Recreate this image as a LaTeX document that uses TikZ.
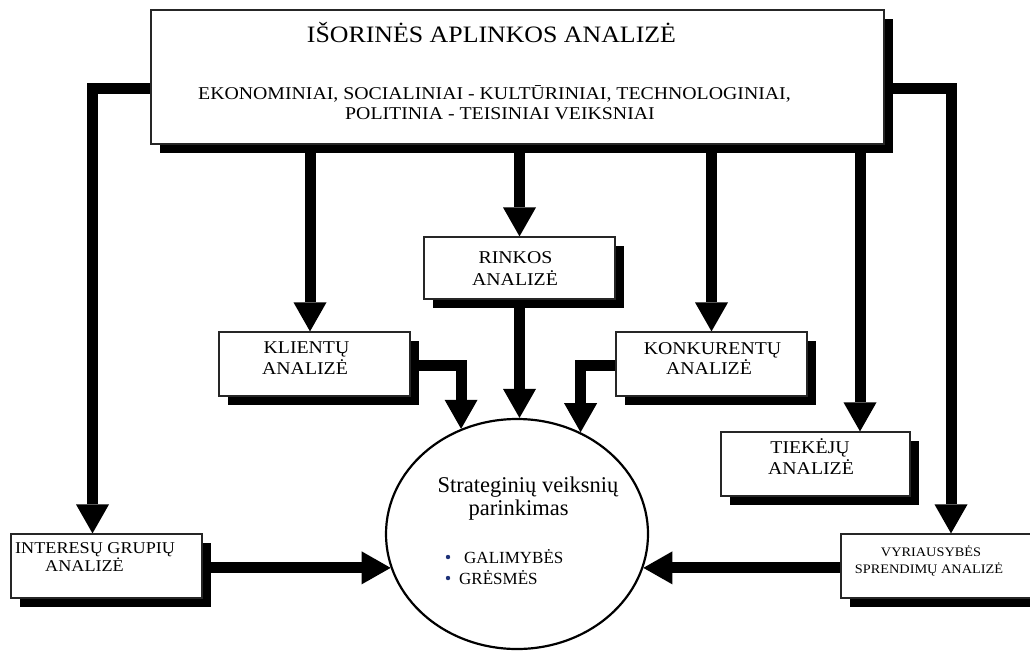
\documentclass[tikz,border=0pt]{standalone}
\usepackage{fontspec}
\setmainfont{Liberation Serif}
\newfontfamily\widefont[FakeStretch=1.1]{Liberation Serif}
\usetikzlibrary{arrows.meta,shadows,shapes.geometric,backgrounds}
\definecolor{bulletblue}{RGB}{30,50,120}

\begin{document}
\begin{tikzpicture}[x=1pt,y=-1pt,
  box/.style={draw=black!85, line width=1.2pt, fill=white, inner sep=0pt,
    general shadow={fill=black, shadow xshift=9pt, shadow yshift=-9pt}},
  conn/.style={line width=11pt, -{Triangle[width=33pt,length=29pt,line width=0pt]}},
  lbl/.style={font=\widefont\fontsize{18}{21}\selectfont, inner sep=0pt, anchor=base},
  lblw/.style={lbl, anchor=base west},
  ring/.style={font=\fontsize{22.5}{26}\selectfont, inner sep=0pt, anchor=base},
  item/.style={font=\fontsize{17}{20}\selectfont, inner sep=0pt, anchor=base west}]

\useasboundingbox (0,0) rectangle (1030,651);

% external environment box
\node[box, minimum width=733pt, minimum height=134pt] (main) at (517.5,77) {};
\node[lbl, font=\widefont\fontsize{23.5}{26}\selectfont] (t1) at (491.5,42.5) {IŠORINĖS APLINKOS ANALIZĖ};
\node[lbl] (t2) at (494.5,99) {EKONOMINIAI, SOCIALINIAI - KULTŪRINIAI, TECHNOLOGINIAI,};
\node[lbl] (t3) at (500,119) {POLITINIA - TEISINIAI VEIKSNIAI};

% market
\node[box, minimum width=191pt, minimum height=62pt] (rk) at (519.5,268) {};
\node[lbl] (rk1) at (515.5,263) {RINKOS};
\node[lbl] (rk2) at (515,285) {ANALIZĖ};

% clients
\node[box, minimum width=191pt, minimum height=64pt] (kl) at (314.5,364) {};
\node[lbl] (kl1) at (306.5,353) {KLIENTŲ};
\node[lbl] (kl2) at (305,374) {ANALIZĖ};

% competitors
\node[box, minimum width=191pt, minimum height=64pt] (kk) at (711.5,364) {};
\node[lbl] (kk1) at (712.5,354) {KONKURENTŲ};
\node[lbl] (kk2) at (709,374.5) {ANALIZĖ};

% suppliers
\node[box, minimum width=189pt, minimum height=64pt] (tk) at (815.5,464) {};
\node[lbl] (tk1) at (810,453) {TIEKĖJŲ};
\node[lbl] (tk2) at (811,474) {ANALIZĖ};

% interest groups
\node[box, minimum width=191pt, minimum height=64pt] (ig) at (106.5,566) {};
\node[lblw, font=\widefont\fontsize{16.5}{20}\selectfont] (ig1) at (15,553) {INTERESŲ GRUPIŲ};
\node[lblw, font=\widefont\fontsize{16.5}{20}\selectfont] (ig2) at (45,571) {ANALIZĖ};

% government decisions
\node[box, minimum width=194pt, minimum height=64pt] (vy) at (938,566) {};
\node[lbl, font=\widefont\fontsize{13}{16}\selectfont] (vy1) at (931,556) {VYRIAUSYBĖS};
\node[lbl, font=\widefont\fontsize{13}{16}\selectfont] (vy2) at (929,573) {SPRENDIMŲ ANALIZĖ};

% central selection
\node[draw, ellipse, line width=2.2pt, fill=white, minimum width=262pt, minimum height=230pt, inner sep=0pt] (strat) at (517,534) {};
\node[ring] (s1) at (528,492) {Strateginių veiksnių};
\node[ring] (s2) at (518.5,515) {parinkimas};
\fill[bulletblue] (448,557) circle (2.2pt);
\fill[bulletblue] (448,578) circle (2.2pt);
\node[item] (g1) at (464,563) {GALIMYBĖS};
\node[item] (g2) at (459,584) {GRĖSMĖS};

% entry points on the boxes
\coordinate (klin) at ([xshift=-4.5pt]kl.north);
\coordinate (tkin) at ([xshift=44.5pt]tk.north);
\coordinate (igin) at ([xshift=-14pt]ig.north);
\coordinate (vyin) at ([xshift=13pt]vy.north);
\coordinate (lrail) at ([yshift=-11.5pt]main.west);
\coordinate (rrail) at ([yshift=-11.5pt]main.east);
\coordinate (klout) at ([yshift=-1pt]kl.east);
\coordinate (kkout) at ([yshift=-1pt]kk.west);

\begin{scope}[on background layer]
  \draw[conn] (main.south -| klin) -- (klin);
  \draw[conn] (main.south -| rk.north) -- (rk.north);
  \draw[conn] (main.south -| kk.north) -- (kk.north);
  \draw[conn] (main.south -| tkin) -- (tkin);
  \draw[conn] (lrail) -| (igin);
  \draw[conn] (rrail) -| (vyin);
  \draw[conn] (rk.south) -- (rk.south |- strat.north);
  \draw[conn] (klout) -| (strat.118);
  \draw[conn] (kkout) -| (strat.58.5);
  \draw[conn] (strat.195 -| ig.east) -- (strat.195);
  \draw[conn] (strat.-15 -| vy.west) -- (strat.-15);
\end{scope}
\end{tikzpicture}
\end{document}
